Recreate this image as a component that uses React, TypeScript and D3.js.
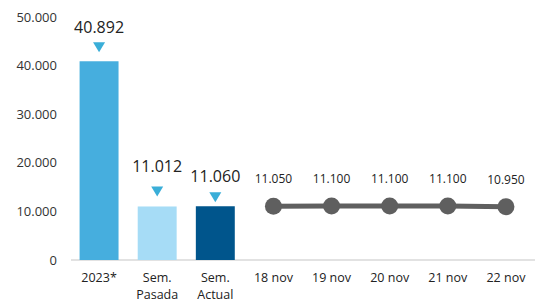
import React from "react";
import * as d3 from "d3";

const categories = ["2023*", "Sem.\nPasada", "Sem.\nActual", "18 nov", "19 nov", "20 nov", "21 nov", "22 nov"];
const barValues = [40892, 11012, 11060];
const barLabels = ["40.892", "11.012", "11.060"];
const barColors = ["#46AEDE", "#A6DCF6", "#00558C"];
const lineValues = [11050, 11100, 11100, 11100, 10950];
const lineLabels = ["11.050", "11.100", "11.100", "11.100", "10.950"];
const yTicks = [0, 10000, 20000, 30000, 40000, 50000];
const yTickLabels = ["0", "10.000", "20.000", "30.000", "40.000", "50.000"];

// label placement offsets (layout)
const labelLift = [28, 34, 24];
const markerLift = [9, 10, 4];

const W = 542, H = 302;
const FONT = "'Open Sans', 'DejaVu Sans', sans-serif";

export default function App() {
  const x = d3.scaleBand<string>().domain(categories).range([70, 535]).paddingInner(0.33).paddingOuter(0.165);
  const y = d3.scaleLinear().domain([0, 50000]).range([260, 17]);
  const lineCats = categories.slice(3);
  const cx = (c: string) => (x(c) as number) + x.bandwidth() / 2;
  const linePath = d3.line<number>().x((_, i) => cx(lineCats[i])).y((v) => y(v))(lineValues) as string;

  return (
    <svg width={W} height={H} style={{ position: "absolute", left: 0, top: 0, background: "#fff" }} fontFamily={FONT}>
      {yTicks.map((t, i) => (
        <text key={t} x={57} y={y(t)} dy="0.35em" textAnchor="end" fontSize={13} fill="#333">{yTickLabels[i]}</text>
      ))}
      <line x1={71} x2={535} y1={y(0)} y2={y(0)} stroke="#d9d9d9" strokeWidth={1.5} />
      {barValues.map((v, i) => {
        const c = categories[i];
        const bx = x(c) as number;
        const top = y(v);
        const mx = cx(c);
        const mb = top - markerLift[i];
        return (
          <g key={c}>
            <rect x={bx} y={top} width={x.bandwidth()} height={y(0) - top} fill={barColors[i]} />
            <path d={`M${mx - 6},${mb - 10} L${mx + 6},${mb - 10} L${mx},${mb} Z`} fill="#3AAED8" />
            <text x={mx} y={top - labelLift[i]} textAnchor="middle" fontSize={16} fill="#222">{barLabels[i]}</text>
          </g>
        );
      })}
      <path d={linePath} fill="none" stroke="#5f5f5f" strokeWidth={5} />
      {lineValues.map((v, i) => (
        <g key={i}>
          <circle cx={cx(lineCats[i])} cy={y(v)} r={8.5} fill="#5f5f5f" />
          <text x={cx(lineCats[i])} y={y(v) - 23} textAnchor="middle" fontSize={12} fill="#222">{lineLabels[i]}</text>
        </g>
      ))}
      {categories.map((c) =>
        c.split("\n").map((l, j) => (
          <text key={c + j} x={cx(c)} y={282 + j * 16.5} textAnchor="middle" fontSize={12.5} fill="#222">{l}</text>
        ))
      )}
    </svg>
  );
}
